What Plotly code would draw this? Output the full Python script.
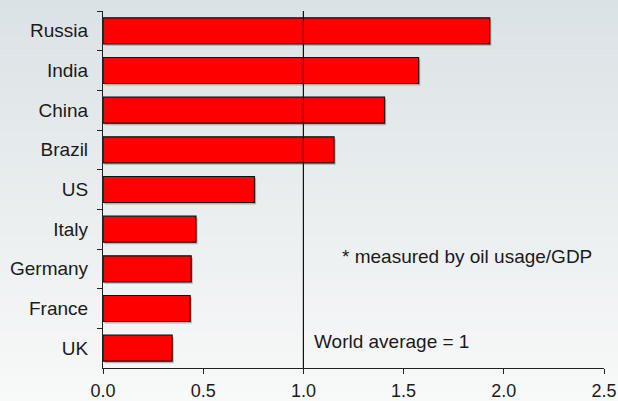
import plotly.graph_objects as go

countries = ["Russia", "India", "China", "Brazil", "US", "Italy", "Germany", "France", "UK"]
intensity = [1.93, 1.575, 1.405, 1.153, 0.756, 0.464, 0.44, 0.435, 0.345]
x_ticks = [0.0, 0.5, 1.0, 1.5, 2.0, 2.5]
x_tick_labels = ["0.0", "0.5", "1.0", "1.5", "2.0", "2.5"]
world_average = 1.0

W, H = 618, 401
ml, mr, mt, mb = 103, 14, 11, 33
pw, ph = W - ml - mr, H - mt - mb

FONT = "Liberation Sans, Arial, sans-serif"
TXT = "#1a1a1a"
bar_w = 0.655

fig = go.Figure()

# subtle drop shadow
fig.add_trace(go.Bar(
    y=countries, x=intensity, orientation="h", base=0.008,
    width=bar_w, offset=-bar_w / 2 + 0.05,
    marker=dict(color="rgba(120,120,120,0.5)", line=dict(width=0)),
    hoverinfo="skip", showlegend=False,
))
fig.add_trace(go.Bar(
    y=countries, x=intensity, orientation="h",
    width=bar_w, offset=-bar_w / 2,
    marker=dict(color="#ff0000", line=dict(color="#111111", width=1.2)),
    showlegend=False,
))

# background gradient stripes
n = 80
top = (219, 226, 229)
bot = (248, 249, 249)
y_top = 1 + mt / ph
y_bot = -mb / ph
x_left = -ml / pw
x_right = 1 + mr / pw
shapes = []
for i in range(n):
    t = i / (n - 1)
    c = tuple(round(top[k] + (bot[k] - top[k]) * t) for k in range(3))
    y1 = y_top - (y_top - y_bot) * i / n
    y0 = y_top - (y_top - y_bot) * (i + 1) / n - 0.002
    shapes.append(dict(type="rect", xref="paper", yref="paper",
                       x0=x_left, x1=x_right, y0=y0, y1=y1,
                       fillcolor="rgb(%d,%d,%d)" % c, line=dict(width=0),
                       layer="below"))
# world average line
shapes.append(dict(type="line", xref="x", yref="paper",
                   x0=world_average, x1=world_average, y0=0, y1=1,
                   line=dict(color="#111111", width=1.2), layer="above"))

axis_common = dict(showgrid=False, zeroline=False, showline=True,
                   linecolor="#222222", linewidth=1.2,
                   ticks="outside", ticklen=5, tickcolor="#222222", tickwidth=1.2,
                   automargin=False, fixedrange=True)

fig.update_layout(
    template="none",
    width=W, height=H,
    margin=dict(l=ml, r=mr, t=mt, b=mb, pad=0),
    paper_bgcolor="rgba(0,0,0,0)", plot_bgcolor="rgba(0,0,0,0)",
    font=dict(family=FONT, size=19, color=TXT),
    barmode="overlay",
    shapes=shapes,
    xaxis=dict(range=[0, 2.5], tickvals=x_ticks, ticktext=x_tick_labels,
               ticklabelstandoff=1,
               tickfont=dict(size=18, family=FONT, color=TXT),
               **axis_common),
    yaxis=dict(categoryorder="array", categoryarray=countries,
               range=[len(countries) - 0.5, -0.5],
               tickson="boundaries", ticklabelstandoff=10,
               tickfont=dict(size=19, family=FONT, color=TXT),
               **axis_common),
    annotations=[
        dict(x=1.197, y=5.68, xref="x", yref="y", text="* measured by oil usage/GDP",
             showarrow=False, xanchor="left", yanchor="middle", xshift=-3,
             font=dict(size=19, family=FONT, color=TXT)),
        dict(x=1.057, y=7.82, xref="x", yref="y", text="World average = 1",
             showarrow=False, xanchor="left", yanchor="middle", xshift=-3,
             font=dict(size=19, family=FONT, color=TXT)),
    ],
)

fig.write_html("out.html", config={"displayModeBar": False})
